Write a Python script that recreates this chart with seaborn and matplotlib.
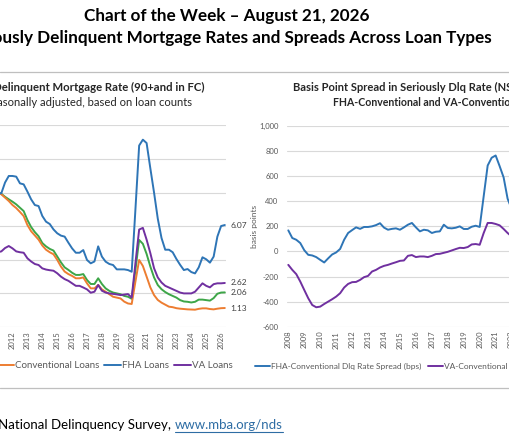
import numpy as np
import pandas as pd
import matplotlib
matplotlib.use("Agg")
import matplotlib.pyplot as plt
import seaborn as sns
from matplotlib.lines import Line2D

W, H = 510, 443

# ---------------- data ----------------
# Left panel: seriously delinquent rate (%), quarterly from 2011Q1 to 2026Q2
left_start = 2011.0
all_loans = [8.0, 7.93, 7.75, 7.6,
             7.46, 7.3, 7.1, 6.9,
             6.37, 5.95, 5.65, 5.4,
             5.0, 4.8, 4.65, 4.55,
             4.2, 3.85, 3.55, 3.4,
             3.23, 3.1, 3.1, 3.15,
             2.8, 2.56, 2.56, 2.9,
             2.56, 2.3, 2.15, 2.05,
             2.0, 1.95, 1.85, 1.8,
             1.68, 3.4, 5.18, 4.95,
             4.35, 3.6, 2.95, 2.5,
             2.25, 2.08, 1.95, 1.85,
             1.75, 1.6, 1.52, 1.5,
             1.46, 1.5, 1.63, 1.63,
             1.6, 1.57, 1.72, 1.98,
             2.05, 2.06]
conventional = [8.0, 7.9, 7.7, 7.5,
                7.26, 7.08, 6.85, 6.6,
                6.07, 5.7, 5.45, 5.2,
                4.85, 4.6, 4.45, 4.33,
                4.0, 3.6, 3.3, 3.15,
                3.04, 2.9, 2.9, 2.95,
                2.6, 2.3, 2.3, 2.5,
                2.24, 2.1, 1.95, 1.8,
                1.75, 1.7, 1.51, 1.4,
                1.37, 2.7, 3.99, 3.63,
                3.0, 2.36, 1.9, 1.61,
                1.45, 1.33, 1.21, 1.18,
                1.12, 1.09, 1.07, 1.05,
                1.04, 1.03, 1.08, 1.11,
                1.11, 1.07, 1.05, 1.09,
                1.12, 1.13]
fha = [7.96, 7.96, 8.6, 8.99,
       8.99, 8.95, 8.55, 8.49,
       8.06, 7.6, 7.26, 7.2,
       6.61, 6.27, 6.13, 5.81,
       5.58, 5.44, 5.38, 5.02,
       4.68, 4.42, 4.42, 4.58,
       3.99, 3.79, 3.9, 4.8,
       4.19, 3.89, 3.75, 3.69,
       3.43, 3.43, 3.43, 3.39,
       3.29, 7.0, 10.8, 11.15,
       10.95, 9.45, 8.0, 6.45,
       5.3, 4.6, 4.6, 4.45,
       4.05, 3.7, 3.39, 3.45,
       3.27, 3.19, 3.55, 4.15,
       4.03, 3.83, 4.19, 5.38,
       6.01, 6.07]
va = [4.45, 4.5, 4.7, 4.82,
      4.68, 4.5, 4.45, 4.42,
      4.09, 3.9, 3.75, 3.69,
      3.49, 3.42, 3.38, 3.35,
      3.2, 3.0, 2.85, 2.75,
      2.6, 2.45, 2.45, 2.35,
      2.24, 2.04, 2.1, 2.5,
      2.16, 2.05, 2.0, 1.97,
      1.94, 1.9, 1.93, 1.96,
      1.75, 3.8, 5.8, 5.9,
      5.2, 4.4, 3.5, 2.95,
      2.65, 2.45, 2.35, 2.25,
      2.15, 2.05, 2.0, 2.0,
      2.0, 2.1, 2.35, 2.6,
      2.45, 2.36, 2.55, 2.6,
      2.6, 2.62]

# Right panel: spreads in basis points, quarterly from 2008Q1
right_start = 2008.0
fha_spread = [168, 107, 93, 67,
              10, -27, -32, -45,
              -67, -88, -55, -24,
              -8, 20, 93, 147,
              170, 192, 180, 195,
              195, 200, 210, 225,
              190, 173, 180, 184,
              173, 192, 213, 227,
              192, 160, 173, 168,
              147, 157, 160, 213,
              187, 184, 189, 200,
              179, 179, 197, 205,
              195, 440, 685, 747,
              765, 680, 590, 420,
              340]
va_spread = [-107, -147, -181, -240,
             -307, -373, -427, -445,
             -440, -419, -400, -381,
             -360, -333, -288, -259,
             -245, -243, -227, -205,
             -195, -160, -147, -128,
             -115, -107, -96, -86,
             -75, -72, -35, -29,
             -45, -40, -40, -45,
             -35, -21, -19, -11,
             -3, 8, 19, 29,
             27, 35, 56, 59,
             53, 147, 227, 227,
             219, 208, 179, 147,
             120]

years = list(range(2008, 2027))
left_names = ["All Loans", "Conventional Loans", "FHA Loans", "VA Loans"]
right_names = ["FHA-Conventional Dlq Rate Spread (bps)",
               "VA-Conventional Dlq Rate Spread (bps)"]
left_colors = ["#3DA648", "#ED7D31", "#2E75B6", "#7030A0"]
right_colors = ["#2E75B6", "#7030A0"]

# ---------------- frames ----------------
def long_frame(start, series, names, col):
    rows = []
    for name, vals in zip(names, series):
        for i, v in enumerate(vals):
            rows.append({"t": start + 0.25 * i, col: v, "series": name})
    return pd.DataFrame(rows)

left_df = long_frame(left_start, [all_loans, conventional, fha, va], left_names, "rate")
right_df = long_frame(right_start, [fha_spread, va_spread], right_names, "bps")

sns.set_theme(style="white")
plt.rcParams['font.family'] = ['Lato', 'DejaVu Sans']

fig = plt.figure(figsize=(W / 100, H / 100), dpi=100)

def px_axes(x0, ytop, w, h):
    return fig.add_axes([x0 / W, 1 - (ytop + h) / H, w / W, h / H])

GRID = "#D9D9D9"
TXT = "#595959"

# left axes
xl0, xl1 = 2007.9, 2026.35
sl = 14.9
axL = px_axes(131.7 - (2020 - xl0) * sl, 125.4, (xl1 - xl0) * sl, 201.6)
sns.lineplot(data=left_df, x="t", y="rate", hue="series", hue_order=left_names,
             palette=left_colors, linewidth=1.4, ax=axL, legend=False)
axL.set_xlim(xl0, xl1)
axL.set_ylim(0, 12)
axL.set_yticks(range(0, 13, 2))

# right axes
sr = 15.95
axR = px_axes(288.3 - (2008 - xl0) * sr, 126, (xl1 - xl0) * sr, 200.7)
sns.lineplot(data=right_df, x="t", y="bps", hue="series", hue_order=right_names,
             palette=right_colors, linewidth=1.4, ax=axR, legend=False)
axR.set_xlim(xl0, xl1)
axR.set_ylim(-600, 1000)
axR.set_yticks(range(-600, 1001, 200))
axR.set_yticklabels([f"{v:,}" for v in range(-600, 1001, 200)])

for ax in (axL, axR):
    ax.set_xticks(years)
    ax.set_xticklabels([str(y) for y in years], rotation=90)
    ax.set_xlabel("")
    ax.grid(axis="y", color=GRID, linewidth=0.8)
    ax.grid(axis="x", visible=False)
    for s in ax.spines.values():
        s.set_visible(False)
    ax.tick_params(axis="both", length=0, labelsize=5.5, labelcolor=TXT, pad=3)
    ax.tick_params(axis="y", pad=6)
    ax.set_facecolor("none")
axL.set_ylabel("")
axR.set_ylabel("basis points", fontsize=6, color=TXT, labelpad=1)

# end-of-series data labels on the left panel
t_last = left_start + 0.25 * (len(fha) - 1)
for vals in (fha, va, all_loans, conventional):
    axL.annotate(f"{vals[-1]:.2f}", xy=(t_last, vals[-1]), xytext=(4, 0),
                 textcoords="offset points", va="center", ha="left",
                 fontsize=6, color="#404040", annotation_clip=False)

# legends
hL = [Line2D([], [], color=c, lw=1.4) for c in left_colors]
fs_l = 7
fig.legend(hL, left_names, loc="center right", bbox_to_anchor=(233 / W, 1 - 366 / H),
           ncol=4, frameon=False, fontsize=fs_l, handlelength=17 / (fs_l * 1.389),
           handletextpad=0.1, columnspacing=0.5, borderpad=0, borderaxespad=0,
           labelcolor=TXT)
hR = [Line2D([], [], color=c, lw=1.4) for c in right_colors]
fs_r = 6
fig.legend(hR, right_names, loc="center left", bbox_to_anchor=(255 / W, 1 - 366 / H),
           ncol=2, frameon=False, fontsize=fs_r, handlelength=15 / (fs_r * 1.389),
           handletextpad=0.1, columnspacing=0.8, borderpad=0, borderaxespad=0,
           labelcolor=TXT)

# titles
fig.text(227 / W, 1 - 16 / H, "Chart of the Week \u2013 August 21, 2026", ha="center",
         va="center", fontsize=12.3, fontweight="bold", color="black")
fig.text(492 / W, 1 - 38 / H, "Seriously Delinquent Mortgage Rates and Spreads Across Loan Types",
         ha="right", va="center", fontsize=12.3, fontweight="bold", color="black")
fig.text(205 / W, 1 - 87 / H, "Seriously Delinquent Mortgage Rate (90+and in FC)",
         ha="right", va="center", fontsize=8.2, fontweight="bold", color="#262626")
fig.text(192 / W, 1 - 102 / H, "Seasonally adjusted, based on loan counts",
         ha="right", va="center", fontsize=8.1, color="#262626")
fig.text(293 / W, 1 - 87 / H, "Basis Point Spread in Seriously Dlq Rate (NSA)",
         ha="left", va="center", fontsize=8.0, fontweight="bold", color="#262626")
fig.text(333 / W, 1 - 102 / H, "FHA-Conventional and VA-Conventional",
         ha="left", va="center", fontsize=7.6, fontweight="bold", color="#262626")

# frame lines
for yy in (72, 388):
    fig.add_artist(Line2D([0, 1], [1 - yy / H] * 2, color="#BFBFBF", lw=0.9,
                          transform=fig.transFigure))

# source
fig.text(171 / W, 1 - 425 / H, "Source: MBA National Delinquency Survey,", ha="right",
         va="center", fontsize=9.5, color="black")
url = fig.text(175 / W, 1 - 425 / H, "www.mba.org/nds", ha="left", va="center",
               fontsize=9.5, color="#2E6DA4")
fig.canvas.draw()
bb = url.get_window_extent()
uy = (bb.y0 - 1) / H
fig.add_artist(Line2D([bb.x0 / W, bb.x1 / W], [uy, uy], color="#2E6DA4", lw=0.8,
                      transform=fig.transFigure))

fig.savefig("out.png", dpi=100)
